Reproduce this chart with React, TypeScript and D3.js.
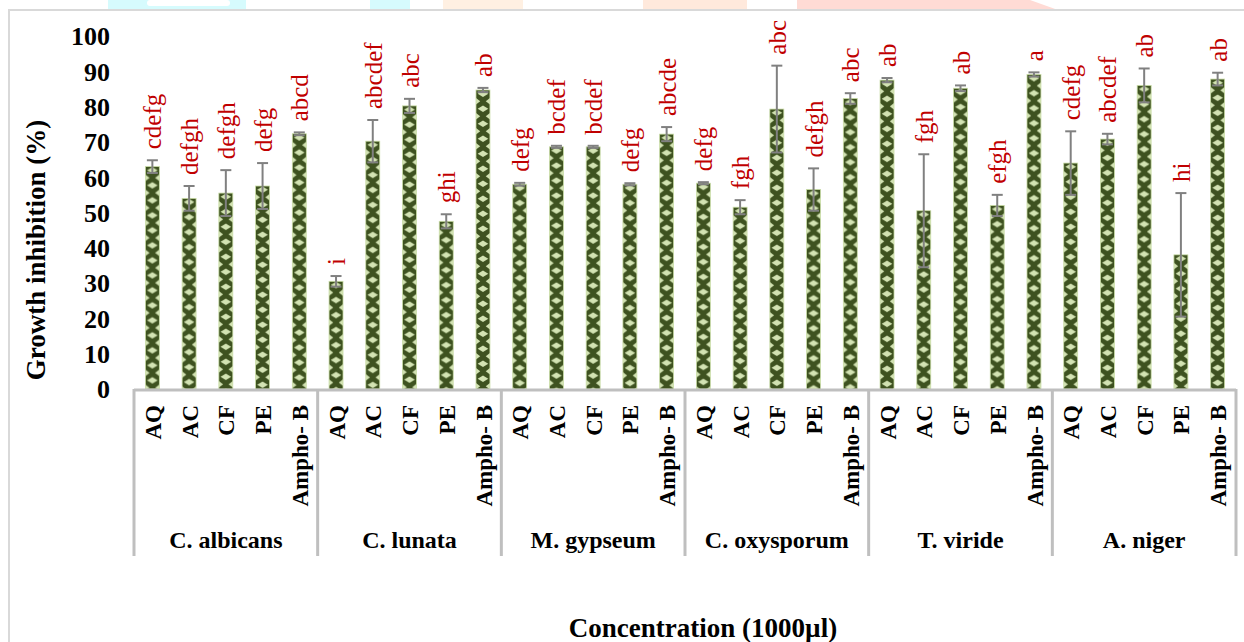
import React from "react";
import * as d3 from "d3";

// Fungal species (outer categories) and extract treatments (inner categories)
const groups = ["C. albicans", "C. lunata", "M. gypseum", "C. oxysporum", "T. viride", "A. niger"];
const treatments = ["AQ", "AC", "CF", "PE", "Ampho- B"];

// Mean growth inhibition (%) per treatment, one array per species
const albicansMean = [63, 54, 55.5, 57.5, 72.3];
const lunataMean = [30.5, 70.2, 80.2, 47.5, 84.7];
const gypseumMean = [58, 68.6, 68.6, 58, 72.2];
const oxysporumMean = [58.3, 51.5, 79.3, 56.5, 82.3];
const virideMean = [87.5, 50.5, 85.2, 52, 89.1];
const nigerMean = [64, 70.8, 86, 38, 87.8];

// Standard deviation per treatment
const albicansErr = [1.8, 3.5, 6.5, 6.5, 0.4];
const lunataErr = [1.5, 6, 2, 2, 0.6];
const gypseumErr = [0.4, 0.3, 0.3, 0.3, 2];
const oxysporumErr = [0.3, 2, 12.3, 6, 1.5];
const virideErr = [0.6, 16, 0.8, 3, 0.6];
const nigerErr = [9, 1.5, 4.8, 17.5, 1.8];

// Significance letters
const albicansSig = ["cdefg", "defgh", "defgh", "defg", "abcd"];
const lunataSig = ["i", "abcdef", "abc", "ghi", "ab"];
const gypseumSig = ["defg", "bcdef", "bcdef", "defg", "abcde"];
const oxysporumSig = ["defg", "fgh", "abc", "defgh", "abc"];
const virideSig = ["ab", "fgh", "ab", "efgh", "a"];
const nigerSig = ["cdefg", "abcdef", "ab", "hi", "ab"];

const yTicks = [0, 10, 20, 30, 40, 50, 60, 70, 80, 90, 100];

const means = [albicansMean, lunataMean, gypseumMean, oxysporumMean, virideMean, nigerMean];
const errs = [albicansErr, lunataErr, gypseumErr, oxysporumErr, virideErr, nigerErr];
const sigs = [albicansSig, lunataSig, gypseumSig, oxysporumSig, virideSig, nigerSig];

const FONT = "Liberation Serif";
const DARK = "#3e5220";
const LIGHT = "#d3e3b3";
const AXIS = "#bfbfbf";

export default function App() {
  const width = 1244;
  const height = 642;
  const x0 = d3.scaleBand<string>().domain(groups).range([134, 1236]);
  const x1 = d3
    .scaleBand<string>()
    .domain(treatments)
    .range([0, x0.bandwidth()])
    .paddingInner(0.62)
    .paddingOuter(0.31);
  const y = d3.scaleLinear().domain([0, 100]).range([389, 36]);
  const bw = x1.bandwidth();
  const tileH = 15;

  const rows = groups.flatMap((g, gi) =>
    treatments.map((t, ti) => ({
      key: `${gi}-${ti}`,
      group: g,
      treatment: t,
      value: means[gi][ti],
      err: errs[gi][ti],
      sig: sigs[gi][ti],
      x: (x0(g) as number) + (x1(t) as number),
    }))
  );

  const a = bw * 0.38;
  const e = bw * 0.3;

  return (
    <svg
      width={width}
      height={height}
      style={{ position: "fixed", left: 0, top: 0, background: "#fff", fontFamily: FONT }}
    >
      <defs>
        {rows.map((r) => (
          <pattern
            key={r.key}
            id={`dia-${r.key}`}
            patternUnits="userSpaceOnUse"
            x={r.x}
            y={y(r.value)}
            width={bw}
            height={tileH}
          >
            <rect width={bw} height={tileH} fill={DARK} />
            <polygon
              fill={LIGHT}
              points={`${bw / 2},0.4 ${bw / 2 + a},${tileH / 4} ${bw / 2},${tileH / 2 - 0.4} ${bw / 2 - a},${tileH / 4}`}
            />
            <polygon
              fill={LIGHT}
              points={`0,${tileH / 2 + 0.4} ${e},${(3 * tileH) / 4} 0,${tileH - 0.4}`}
            />
            <polygon
              fill={LIGHT}
              points={`${bw},${tileH / 2 + 0.4} ${bw - e},${(3 * tileH) / 4} ${bw},${tileH - 0.4}`}
            />
          </pattern>
        ))}
      </defs>

      {/* faint banner fragments along the top edge */}
      <g>
        <rect x={108} y={0} width={138} height={10} fill="#d6fbfd" />
        <rect x={147} y={0} width={83} height={6} rx={3} fill="#ffffff" />
        <rect x={370} y={0} width={40} height={10} fill="#d6fbfd" />
        <rect x={443} y={0} width={80} height={10} fill="#fff0e2" />
        <rect x={643} y={0} width={104} height={10} fill="#ffe9dc" />
        <polygon points="797,0 1030,0 1058,10 797,10" fill="#ffdbd5" />
      </g>

      {/* outer frame */}
      <rect x={9} y={10} width={1260} height={660} fill="none" stroke="#d9d9d9" strokeWidth={2} />

      {/* y tick labels */}
      {yTicks.map((t) => (
        <text
          key={t}
          x={110}
          y={y(t)}
          dy="0.36em"
          textAnchor="end"
          fontSize={26}
          fontWeight="bold"
          fontFamily={FONT}
          fill="#000"
        >
          {t}
        </text>
      ))}

      {/* bars */}
      {rows.map((r) => (
        <rect
          key={r.key}
          x={r.x}
          y={y(r.value)}
          width={bw}
          height={y(0) - y(r.value)}
          fill={`url(#dia-${r.key})`}
          stroke="#c9dca6"
          strokeWidth={0.8}
        />
      ))}

      {/* error bars */}
      {rows.map((r) => {
        const cx = r.x + bw / 2;
        const top = y(r.value + r.err);
        const bot = y(r.value - r.err);
        return (
          <g key={r.key} stroke="#808080" strokeWidth={2}>
            <line x1={cx} x2={cx} y1={top} y2={bot} />
            <line x1={cx - 5.5} x2={cx + 5.5} y1={top} y2={top} />
            <line x1={cx - 5.5} x2={cx + 5.5} y1={bot} y2={bot} />
          </g>
        );
      })}

      {/* significance letters */}
      {rows.map((r) => {
        const cx = r.x + bw / 2;
        const top = y(r.value + r.err) - 11;
        return (
          <text
            key={r.key}
            transform={`translate(${cx + 1},${top}) rotate(-90)`}
            dy="0.32em"
            fontSize={25}
            fontFamily={FONT}
            fill="#c00000"
          >
            {r.sig}
          </text>
        );
      })}

      {/* category axis */}
      <line x1={134} x2={1236} y1={390} y2={390} stroke={AXIS} strokeWidth={3} />
      {[...groups.map((g) => x0(g) as number), 1236].map((sx, i) => (
        <line key={i} x1={sx} x2={sx} y1={389} y2={556} stroke={AXIS} strokeWidth={3} />
      ))}

      {rows.map((r) => (
        <text
          key={r.key}
          transform={`translate(${r.x + bw / 2 + 1},405) rotate(-90)`}
          dy="0.33em"
          textAnchor="end"
          fontSize={23}
          fontWeight="bold"
          fontFamily={FONT}
          fill="#000"
        >
          {r.treatment}
        </text>
      ))}

      {groups.map((g) => (
        <text
          key={g}
          x={(x0(g) as number) + x0.bandwidth() / 2}
          y={548}
          textAnchor="middle"
          fontSize={24}
          fontWeight="bold"
          fontFamily={FONT}
          fill="#000"
        >
          {g}
        </text>
      ))}

      {/* axis titles */}
      <text
        transform="translate(45,250) rotate(-90)"
        textAnchor="middle"
        fontSize={27}
        fontWeight="bold"
        fontFamily={FONT}
        fill="#000"
      >
        Growth inhibition (%)
      </text>
      <text
        x={703}
        y={637}
        textAnchor="middle"
        fontSize={27}
        fontWeight="bold"
        fontFamily={FONT}
        fill="#000"
      >
        Concentration (1000µl)
      </text>
    </svg>
  );
}
